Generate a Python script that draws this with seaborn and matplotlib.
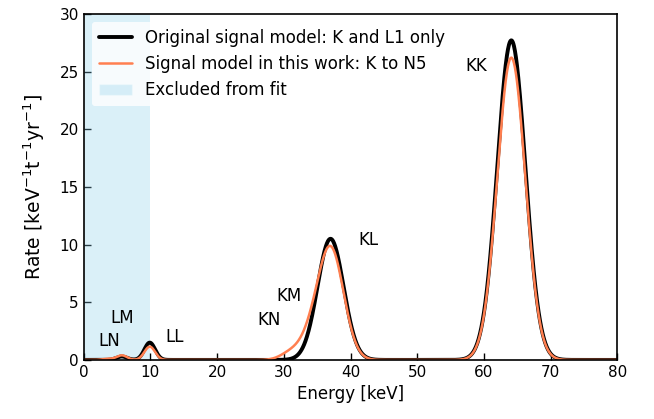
import numpy as np
import pandas as pd
import seaborn as sns
import matplotlib.pyplot as plt
from matplotlib.patches import Patch
from matplotlib.lines import Line2D

# peak table: centre [keV], height, width (sigma)
orig_centre = [5.7, 9.9, 37.0, 64.1]
orig_height = [0.30, 1.50, 10.5, 27.7]
orig_sigma = [0.8, 0.8, 1.95, 2.1]

new_centre = [3.5, 5.7, 9.9, 31.0, 33.8, 37.0, 64.1]
new_height = [0.10, 0.40, 1.15, 0.6, 1.3, 9.7, 26.2]
new_sigma = [0.7, 0.8, 0.8, 1.5, 1.6, 1.95, 2.1]

peak_labels = ['LN', 'LM', 'LL', 'KN', 'KM', 'KL', 'KK']
label_x = [3.8, 5.7, 13.6, 27.8, 30.8, 42.7, 58.9]
label_y = [1.65, 3.6, 2.0, 3.5, 5.5, 10.4, 25.5]

energy = np.linspace(0, 80, 1601)


def model(centres, heights, sigmas):
    rate = np.zeros_like(energy)
    for c, h, s in zip(centres, heights, sigmas):
        rate += h * np.exp(-0.5 * ((energy - c) / s) ** 2)
    return rate


df = pd.DataFrame({'energy': energy,
                   'orig': model(orig_centre, orig_height, orig_sigma),
                   'new': model(new_centre, new_height, new_sigma)})

sns.set_style('ticks')
settings = {'font.family': ['DejaVu Sans'], 'font.size': 11,
            'text.color': 'black', 'axes.labelcolor': 'black', 'axes.edgecolor': 'black',
            'xtick.color': 'black', 'ytick.color': 'black',
            'axes.linewidth': 1.2, 'xtick.direction': 'in', 'ytick.direction': 'in',
            'xtick.major.size': 5, 'ytick.major.size': 5,
            'xtick.major.width': 1.0, 'ytick.major.width': 1.0,
            'xtick.labelsize': 11, 'ytick.labelsize': 11, 'axes.labelsize': 12}

with plt.rc_context(settings):
    fig, ax = plt.subplots(figsize=(6.54, 4.19), dpi=100)
    fig.subplots_adjust(left=0.128, right=0.944, top=0.967, bottom=0.141)

    ax.axvspan(0, 10, color='#87ceeb', alpha=0.3, lw=0)
    sns.lineplot(data=df, x='energy', y='orig', color='black', lw=2.8, ax=ax)
    sns.lineplot(data=df, x='energy', y='new', color='coral', lw=1.8, ax=ax)

    for lab, x, y in zip(peak_labels, label_x, label_y):
        ax.text(x, y, lab, fontsize=12, ha='center', va='center')

    ax.set_xlim(0, 80)
    ax.set_ylim(0, 30)
    ax.set_xticks(range(0, 81, 10))
    ax.set_yticks(range(0, 31, 5))
    ax.set_xlabel('Energy [keV]')
    ax.set_ylabel(r'Rate [keV$^{-1}$t$^{-1}$yr$^{-1}$]', fontsize=13.5, labelpad=9)

    handles = [Line2D([], [], color='black', lw=2.8),
               Line2D([], [], color='coral', lw=1.8),
               Patch(facecolor='#87ceeb', alpha=0.3)]
    ax.legend(handles, ['Original signal model: K and L1 only',
                        'Signal model in this work: K to N5',
                        'Excluded from fit'],
              loc='upper left', fontsize=12, framealpha=0.8, edgecolor='none')

    plt.savefig('out.png', dpi=100)
    plt.close()
